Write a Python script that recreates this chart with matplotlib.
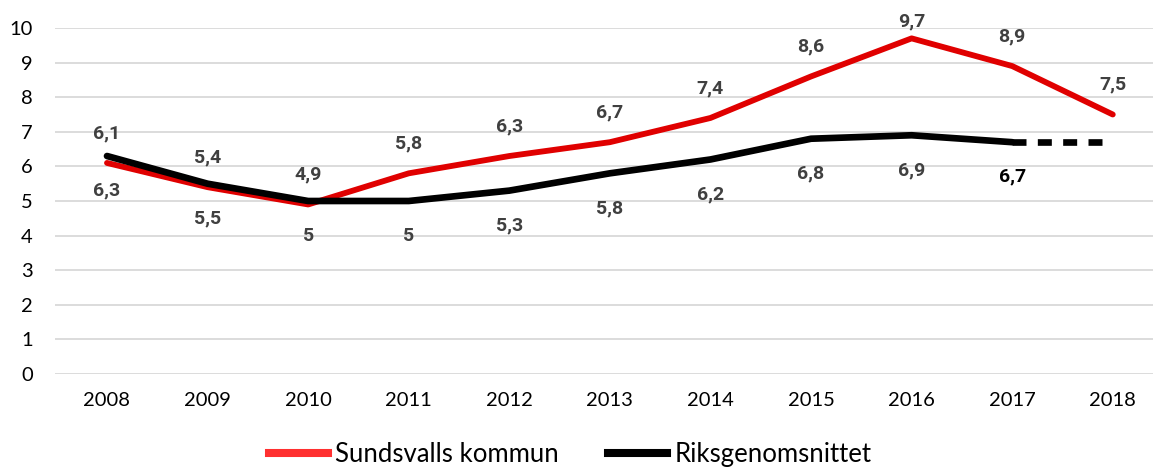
import matplotlib.pyplot as plt
from matplotlib.lines import Line2D

# data
years = ['2008', '2009', '2010', '2011', '2012', '2013', '2014', '2015', '2016', '2017', '2018']
sundsvall = [6.1, 5.4, 4.9, 5.8, 6.3, 6.7, 7.4, 8.6, 9.7, 8.9, 7.5]
riket = [6.3, 5.5, 5.0, 5.0, 5.3, 5.8, 6.2, 6.8, 6.9, 6.7]
riket_2018 = 6.7
yticks = list(range(0, 11))


def fmt(v):
    s = ('%.1f' % v).rstrip('0').rstrip('.')
    return s.replace('.', ',')


plt.rcParams['font.family'] = ['Lato', 'DejaVu Sans']

fig = plt.figure(figsize=(11.53, 4.68), dpi=100)
ax = fig.add_axes([55 / 1153, (468 - 374) / 468, 1 - 55 / 1153, (374 - 28) / 468])

x = list(range(len(years)))
ax.plot(x, sundsvall, color='#e00000', lw=4.2, solid_capstyle='round', zorder=3)
ax.plot(x[:len(riket)], riket, color='black', lw=4.8, solid_capstyle='round', zorder=4)
ax.plot([x[len(riket) - 1], x[-1]], [riket[-1], riket_2018], color='black', lw=4.8,
        dashes=(2.1, 1.7), zorder=4)

# data labels (etiketten hålls inom figurens överkant)
for i, v in enumerate(sundsvall):
    off = min(21.5, (10.2 - v) * 24.9)
    ax.annotate(fmt(v), (i, v), xytext=(0, off), textcoords='offset points', ha='center',
                va='center', fontsize=14, fontweight='bold', color='#404040',
                family=['Roboto', 'DejaVu Sans'], clip_on=False)
for i, v in enumerate(riket):
    c = 'black' if i == len(riket) - 1 else '#404040'
    ax.annotate(fmt(v), (i, v), xytext=(0, -25), textcoords='offset points', ha='center',
                va='center', fontsize=14, fontweight='bold', color=c,
                family=['Roboto', 'DejaVu Sans'], clip_on=False)

ax.set_xlim(-0.517, 10.40)
ax.set_ylim(0, 10)
ax.set_yticks(yticks)
ax.set_xticks(x)
ax.set_xticklabels(years)
ax.tick_params(axis='both', length=0, labelsize=14.5, colors='black')
ax.tick_params(axis='x', pad=13)
ax.tick_params(axis='y', pad=16)
ax.grid(axis='y', color='#d9d9d9', lw=1.3)
ax.set_axisbelow(True)
for s in ax.spines.values():
    s.set_visible(False)

handles = [Line2D([], [], color='#ff3030', lw=5.8),
           Line2D([], [], color='black', lw=5.8)]
fig.legend(handles, ['Sundsvalls kommun', 'Riksgenomsnittet'], loc='center',
           bbox_to_anchor=(0.4945, 0.028), ncol=2, frameon=False, fontsize=18.5,
           handlelength=2.3, handletextpad=0.3, columnspacing=1.9,
           borderpad=0, borderaxespad=0)

fig.savefig('out.png', dpi=100)
